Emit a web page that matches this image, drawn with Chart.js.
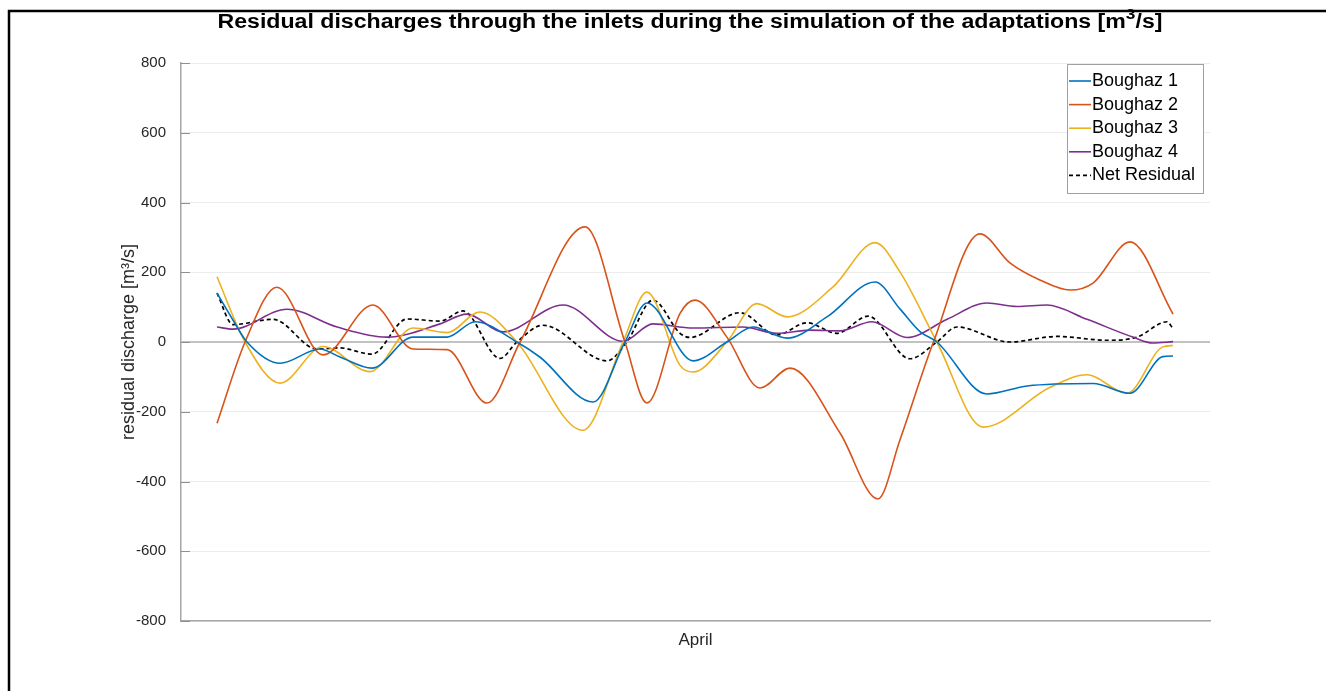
<!DOCTYPE html>
<html>
<head>
<meta charset="utf-8">
<script src="https://cdn.jsdelivr.net/npm/chart.js@4.4.0/dist/chart.umd.min.js"></script>
<style>
  html, body { margin: 0; padding: 0; background: #fff; }
  canvas { display: block; }
</style>
</head>
<body>
<canvas id="chart" width="1326" height="691"></canvas>
<script>
// --- DATA: time in days since the start of the run, discharge in m3/s ---
const seriesNames = ['Boughaz 1', 'Boughaz 2', 'Boughaz 3', 'Boughaz 4', 'Net Residual'];
const xLabel = 'April';
const yLabel = 'residual discharge [m\u00B3/s]';
const yTickValues = [-800, -600, -400, -200, 0, 200, 400, 600, 800];

const b1Days   = [0, 0.50, 0.94, 1.98, 3.23, 3.86, 4.86, 6.15, 7.22, 8.10, 9.41, 10.13, 11.80, 12.80, 13.49, 14.94, 16.00, 16.82, 17.89, 19.14, 20.65, 21.43, 22.06, 22.59, 24.16, 25.42, 27.49, 28.65, 29.68, 30.00];
const b1Values = [140, 63, 0, -61, -20, -43, -75, 14, 14, 58, 0, -43, -172, 0, 112, -54, 0, 43, 11, 72, 172, 95, 30, 0, -149, -126, -119, -147, -42, -40];

const b2Days   = [0, 0.88, 1.88, 3.33, 4.89, 6.15, 7.22, 8.47, 9.51, 11.55, 12.80, 13.49, 14.53, 15.00, 16.00, 17.04, 17.98, 19.55, 20.74, 21.43, 22.47, 23.94, 24.88, 25.82, 26.77, 27.49, 28.65, 30.00];
const b2Values = [-233, 0, 157, -37, 106, -20, -22, -175, 0, 330, 0, -175, 82, 120, 14, -132, -75, -261, -450, -281, -3, 310, 227, 178, 149, 169, 287, 80];

const b3Days   = [0, 0.88, 1.98, 3.33, 4.80, 6.15, 7.22, 8.25, 9.41, 11.48, 12.74, 13.49, 14.53, 14.94, 16.00, 16.94, 17.89, 19.33, 20.65, 21.43, 22.59, 24.04, 26.14, 27.30, 28.55, 29.68, 30.00];
const b3Values = [187, 0, -118, -13, -85, 40, 27, 86, 0, -253, 0, 143, -67, -86, 0, 110, 72, 158, 285, 201, 0, -244, -130, -94, -147, -14, -10];

const b4Days   = [0, 0.50, 2.20, 3.77, 5.33, 7.00, 7.84, 8.97, 10.86, 12.74, 13.68, 14.94, 16.50, 17.57, 18.61, 19.55, 20.55, 21.65, 22.91, 24.16, 25.10, 26.04, 27.30, 28.74, 29.37, 30.00];
const b4Values = [43, 37, 94, 43, 14, 52, 80, 29, 106, 2, 52, 40, 43, 25, 34, 32, 58, 13, 65, 112, 102, 106, 65, 14, -3, 1];

const netDays   = [0, 0.50, 1.76, 3.14, 3.86, 4.86, 5.96, 7.00, 7.72, 8.88, 9.41, 10.23, 12.24, 12.86, 13.68, 14.53, 14.84, 16.41, 17.57, 18.51, 19.45, 20.43, 21.74, 22.59, 23.22, 24.88, 26.36, 27.93, 28.87, 29.81, 30.00];
const netValues = [140, 50, 65, -20, -17, -35, 66, 60, 89, -47, 0, 48, -54, 0, 120, 25, 13, 84, 20, 55, 25, 74, -48, 0, 43, 0, 16, 5, 14, 58, 38];

const titleMain = 'Residual discharges through the inlets during the simulation of the adaptations [m';
const titleSup = '3';
const titleTail = '/s]';

// --- STYLE ---
const FONT = '"Liberation Sans", Arial, Helvetica, sans-serif';
const colors = ['#0072BD', '#D95319', '#EDB120', '#7E2F8E', '#000000'];

function toPoints(days, values) {
    return days.map((d, i) => ({ x: d, y: values[i] }));
}

const allDays = [b1Days, b2Days, b3Days, b4Days, netDays];
const allValues = [b1Values, b2Values, b3Values, b4Values, netValues];

const datasets = seriesNames.map((name, i) => ({
    label: name,
    data: toPoints(allDays[i], allValues[i]),
    borderColor: colors[i],
    borderWidth: i === 4 ? 1.7 : 1.6,
    borderDash: i === 4 ? [4, 3] : [],
    pointRadius: 0,
    fill: false,
    cubicInterpolationMode: 'monotone'
}));

// title, inner ticks, legend box and page frame
const decorations = {
    id: 'decorations',
    afterDraw(chart) {
        const ctx = chart.ctx;
        const area = chart.chartArea;
        const yScale = chart.scales.y;
        ctx.save();

        // short inward tick marks on the left axis
        ctx.strokeStyle = '#8f8f8f';
        ctx.lineWidth = 1;
        yScale.ticks.forEach(t => {
            const y = Math.round(yScale.getPixelForValue(t.value)) + 0.5;
            ctx.beginPath();
            ctx.moveTo(area.left, y);
            ctx.lineTo(area.left + 9, y);
            ctx.stroke();
        });

        // title with a raised 3, stretched a little to span 945px
        const mainFont = 'bold 20px ' + FONT;
        const supFont = 'bold 15px ' + FONT;
        ctx.fillStyle = '#000';
        ctx.textBaseline = 'alphabetic';
        ctx.textAlign = 'left';
        ctx.font = mainFont;
        const w1 = ctx.measureText(titleMain).width;
        const w3 = ctx.measureText(titleTail).width;
        ctx.font = supFont;
        const w2 = ctx.measureText(titleSup).width;
        const total = w1 + w2 + w3;
        const sx = 945 / total;
        const base = 28;
        ctx.save();
        ctx.translate(690 - 945 / 2, 0);
        ctx.scale(sx, 1);
        let x = 0;
        ctx.font = mainFont;
        ctx.fillText(titleMain, x, base);
        x += w1;
        ctx.font = supFont;
        ctx.fillText(titleSup, x, base - 9);
        x += w2;
        ctx.font = mainFont;
        ctx.fillText(titleTail, x, base);
        ctx.restore();

        // legend
        const lx = 1067.5, ly = 64.5, lw = 136, lh = 129;
        ctx.fillStyle = '#fff';
        ctx.fillRect(lx, ly, lw, lh);
        ctx.strokeStyle = '#a0a0a0';
        ctx.lineWidth = 1;
        ctx.strokeRect(lx, ly, lw, lh);
        ctx.font = '18px ' + FONT;
        ctx.textBaseline = 'middle';
        chart.data.datasets.forEach((ds, i) => {
            const y = 81 + i * 23.6;
            ctx.strokeStyle = ds.borderColor;
            ctx.lineWidth = ds.borderWidth;
            ctx.setLineDash(ds.borderDash);
            ctx.beginPath();
            ctx.moveTo(1069, y);
            ctx.lineTo(1091, y);
            ctx.stroke();
            ctx.setLineDash([]);
            ctx.fillStyle = '#000';
            ctx.fillText(ds.label, 1092, y);
        });

        // page frame (top and left edges)
        ctx.strokeStyle = '#000';
        ctx.lineWidth = 2.5;
        ctx.beginPath();
        ctx.moveTo(9, chart.height);
        ctx.lineTo(9, 11);
        ctx.lineTo(chart.width, 11);
        ctx.stroke();
        ctx.restore();
    }
};

new Chart(document.getElementById('chart'), {
    type: 'line',
    data: { datasets: datasets },
    options: {
        responsive: false,
        animation: false,
        devicePixelRatio: 1,
        layout: { padding: { top: 63, right: 116, bottom: 0, left: 0 } },
        plugins: {
            legend: { display: false },
            tooltip: { enabled: false }
        },
        scales: {
            x: {
                type: 'linear',
                min: -1.13,
                max: 31.16,
                ticks: { display: false },
                grid: { display: false, drawTicks: false },
                border: { color: '#a6a6a6', width: 1.5 },
                title: {
                    display: true,
                    text: xLabel,
                    color: '#262626',
                    font: { family: FONT, size: 17 },
                    padding: { top: 0, bottom: 40 }
                },
                afterFit(scale) { scale.height = 70; }
            },
            y: {
                min: -800,
                max: 800,
                afterBuildTicks(scale) {
                    scale.ticks = yTickValues.map(v => ({ value: v }));
                },
                ticks: {
                    color: '#262626',
                    padding: 15,
                    font: { family: FONT, size: 15 }
                },
                grid: {
                    drawTicks: false,
                    color: ctx => ctx.tick && ctx.tick.value === 0 ? '#c2c2c2' : '#ececec',
                    lineWidth: ctx => ctx.tick && ctx.tick.value === 0 ? 2 : 1
                },
                border: { color: '#a6a6a6', width: 1.5 },
                title: {
                    display: true,
                    text: yLabel,
                    color: '#262626',
                    font: { family: FONT, size: 18 },
                    padding: { top: 118, bottom: 0 }
                },
                afterFit(scale) { scale.width = 181; }
            }
        }
    },
    plugins: [decorations]
});
</script>
</body>
</html>
